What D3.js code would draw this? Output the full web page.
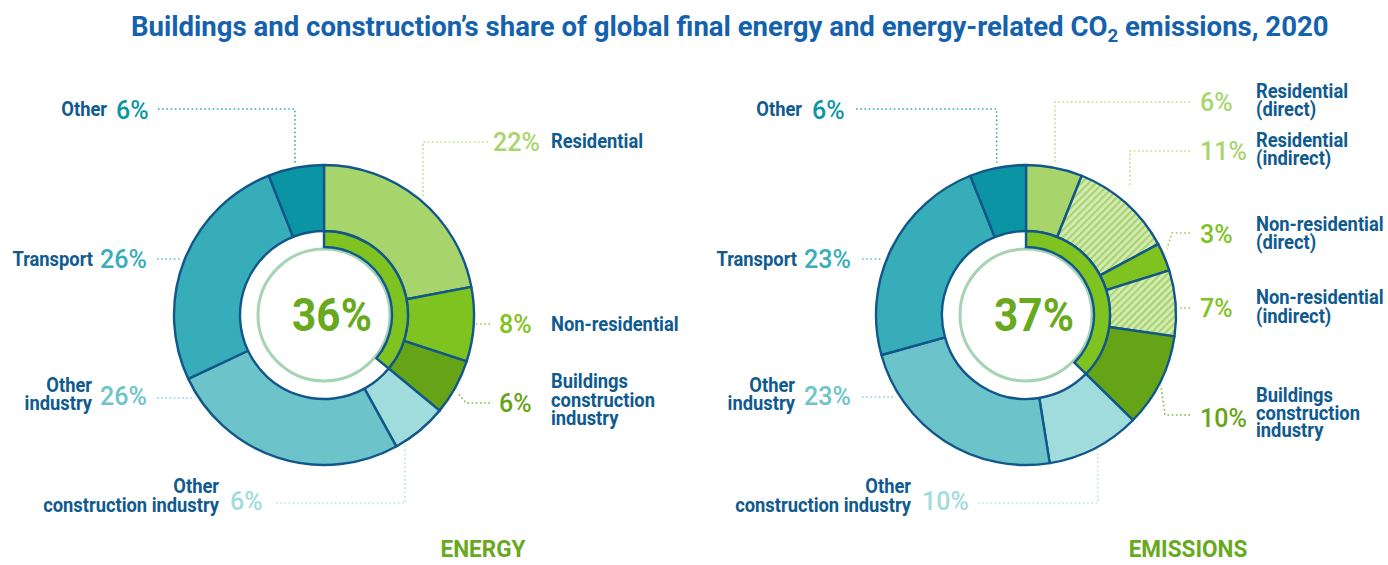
<!DOCTYPE html>
<html><head><meta charset="utf-8">
<script src="https://cdn.jsdelivr.net/npm/d3@7"></script>
<style>
html,body{margin:0;padding:0;background:#fff;}
svg{display:block;font-family:Roboto,"Noto Sans",sans-serif;}
</style></head><body>
<svg id="c" width="1388" height="565"></svg>
<script>
// ---------- DATA ----------
const energyCategories = ["Residential","Non-residential","Buildings construction industry","Other construction industry","Other industry","Transport","Other"];
const energyValues = [22, 8, 6, 6, 26, 26, 6];
const emissionsCategories = ["Residential (direct)","Residential (indirect)","Non-residential (direct)","Non-residential (indirect)","Buildings construction industry","Other construction industry","Other industry","Transport","Other"];
const emissionsValues = [6, 11, 3, 7, 10, 10, 23, 23, 6];
const buildingsShare = [36, 37];
const panelNames = ["ENERGY", "EMISSIONS"];
const titleMain = "Buildings and construction\u2019s share of global final energy and energy-related CO";
const titleSub = "2";
const titleEnd = " emissions, 2020";

// ---------- STYLE ----------
const catColor = {
  "Residential":"#a8d56b","Residential (direct)":"#a8d56b","Residential (indirect)":"#a8d56b",
  "Non-residential":"#7ec320","Non-residential (direct)":"#7ec320","Non-residential (indirect)":"#7ec320",
  "Buildings construction industry":"#66a417",
  "Other construction industry":"#a0dcdc","Other industry":"#6cc4ca","Transport":"#36adb8","Other":"#0b95a4"
};
const hatched = {"Residential (indirect)":"hatchR","Non-residential (indirect)":"hatchN"};
const navy = "#11578a", labelBlue = "#0f5a8e", green = "#68a91d";

const svg = d3.select("#c");
const defs = svg.append("defs");
function hatch(id, base, stripe){
  const p = defs.append("pattern").attr("id", id).attr("patternUnits","userSpaceOnUse")
    .attr("width", 5).attr("height", 5).attr("patternTransform","rotate(45)");
  p.append("rect").attr("width",5).attr("height",5).attr("fill", base);
  p.append("rect").attr("width",2.2).attr("height",5).attr("fill", stripe);
}
hatch("hatchR", "#d6ebb8", "#a8d56b");
hatch("hatchN", "#d6ebb8", "#a8d56b");

// Title
function fitText(sel, x, y, width){
  const w = sel.node().getComputedTextLength();
  sel.attr("transform", `translate(${x},${y}) scale(${width / w},1)`);
}
const title = svg.append("text").attr("x",0).attr("y",0)
  .attr("font-size",28).attr("font-weight",700).attr("fill","#1461ad");
title.append("tspan").text(titleMain);
title.append("tspan").attr("font-size",19).attr("dy",6).text(titleSub);
title.append("tspan").attr("dy",-6).text(titleEnd);
fitText(title, 131, 36, 1198);

function cond(g, x, y, txt, anchor, size, weight, fill, sx){
  return g.append("text").attr("transform",`translate(${x},${y}) scale(${sx},1)`)
    .attr("text-anchor", anchor).attr("font-size", size).attr("font-weight", weight)
    .attr("fill", fill).text(txt);
}

// ---------- LAYOUT ----------
const panels = [
  { cx:324, cy:315, cats:energyCategories, vals:energyValues, share:buildingsShare[0], name:panelNames[0], nameX:483,
    labels:[
      {pctX:493, pctY:151, nameX:551, lines:["Residential"], lineY:[148], leader:{type:"v", x0:488, y:142, at:11.1, gap:4}},
      {pctX:499, pctY:333, nameX:551, lines:["Non-residential"], lineY:[331], leader:{type:"h", x0:490, y:324, gap:1}},
      {pctX:499, pctY:412, nameX:551, lines:["Buildings","construction","industry"], lineY:[388,407,425], leader:{type:"d", x0:490, y:403, elbowX:466, at:33.4, gap:5}},
      {pctX:230, pctY:510, nameX:219, lines:["Other","construction industry"], lineY:[493,512], leader:{type:"v", x0:276, y:503, at:41, gap:1}},
      {pctX:100, pctY:405, nameX:92, lines:["Other","industry"], lineY:[392,410], leader:{type:"h", x0:157, y:398, gap:3}},
      {pctX:100, pctY:268, nameX:93, lines:["Transport"], lineY:[266], leader:{type:"h", x0:157, y:259, gap:5}},
      {pctX:116, pctY:119, nameX:107, lines:["Other"], lineY:[116], leader:{type:"v", x0:158, y:109, at:97, gap:5}}
    ]},
  { cx:1026, cy:315, cats:emissionsCategories, vals:emissionsValues, share:buildingsShare[1], name:panelNames[1], nameX:1188,
    labels:[
      {pctX:1200, pctY:111, nameX:1256, lines:["Residential","(direct)"], lineY:[98,116], leader:{type:"v", x0:1190, y:102, at:2.95, gap:6}},
      {pctX:1200, pctY:160, nameX:1256, lines:["Residential","(indirect)"], lineY:[147,165], leader:{type:"v", x0:1190, y:151, at:10.8, gap:14}},
      {pctX:1200, pctY:243, nameX:1256, lines:["Non-residential","(direct)"], lineY:[231,249], leader:{type:"d", x0:1190, y:233, elbowX:1172, at:17.8, gap:6}},
      {pctX:1200, pctY:317, nameX:1256, lines:["Non-residential","(indirect)"], lineY:[304,323], leader:{type:"h", x0:1190, y:308, gap:3}},
      {pctX:1200, pctY:427, nameX:1256, lines:["Buildings","construction","industry"], lineY:[402,420,437], leader:{type:"d", x0:1190, y:415, elbowX:1165, at:32.3, gap:2}},
      {pctX:922, pctY:510, nameX:911, lines:["Other","construction industry"], lineY:[493,512], leader:{type:"v", x0:978, y:503, at:41.7, gap:1}},
      {pctX:804, pctY:405, nameX:795, lines:["Other","industry"], lineY:[392,410], leader:{type:"h", x0:862, y:397, gap:4}},
      {pctX:804, pctY:268, nameX:797, lines:["Transport"], lineY:[266], leader:{type:"h", x0:862, y:259, gap:6}},
      {pctX:812, pctY:119, nameX:802, lines:["Other"], lineY:[116], leader:{type:"v", x0:856, y:109, at:96, gap:5}}
    ]}
];

const rOuter = 150, rInner = 84, bandIn = 68, bandOut = 84, ringR = 66;

panels.forEach(P => {
  const g = svg.append("g");
  const total = d3.sum(P.vals);
  const pie = d3.pie().sort(null).value(d => d).startAngle(0).endAngle(2*Math.PI);
  const arcs = pie(P.vals);
  const arc = d3.arc().innerRadius(rInner).outerRadius(rOuter);
  const dg = g.append("g").attr("transform", `translate(${P.cx},${P.cy})`);

  // leaders first
  const line = d3.line();
  P.labels.forEach((L, i) => {
    const c = catColor[P.cats[i]];
    const ld = L.leader;
    const R = rOuter + ld.gap;
    let pts;
    if (ld.type === "h") {
      const s = ld.x0 < P.cx ? -1 : 1;
      const ex = P.cx + s * Math.sqrt(R*R - (ld.y - P.cy)*(ld.y - P.cy));
      pts = [[ld.x0, ld.y], [ex, ld.y]];
    } else {
      const a = ld.at / total * 2 * Math.PI;
      const e = [P.cx + R*Math.sin(a), P.cy - R*Math.cos(a)];
      pts = ld.type === "v" ? [[ld.x0, ld.y], [e[0], ld.y], e] : [[ld.x0, ld.y], [ld.elbowX, ld.y], e];
    }
    g.append("path").attr("d", line(pts)).attr("fill","none").attr("stroke", c)
      .attr("stroke-width", 1.6).attr("stroke-dasharray","1.6,2.6").attr("opacity",0.8);
  });

  // ring
  dg.selectAll("path.s").data(arcs).join("path").attr("class","s")
    .attr("d", arc)
    .attr("fill", (d,i) => hatched[P.cats[i]] ? `url(#${hatched[P.cats[i]]})` : catColor[P.cats[i]])
    .attr("stroke", navy).attr("stroke-width", 2.4).attr("stroke-linejoin","round");

  dg.append("circle").attr("r", ringR).attr("fill","none").attr("stroke","#a5d3b4").attr("stroke-width",3);
  dg.append("path").attr("d", d3.arc().innerRadius(bandIn).outerRadius(bandOut)
      .startAngle(0).endAngle(P.share / total * 2 * Math.PI)())
    .attr("fill","#7ec320").attr("stroke", navy).attr("stroke-width", 2.4);

  cond(g, P.cx + 8, P.cy + 16, P.share + "%", "middle", 47, 700, green, 0.9);

  // labels
  P.labels.forEach((L, i) => {
    const c = catColor[P.cats[i]];
    const left = L.nameX < L.pctX;
    g.append("text").attr("x", L.pctX).attr("y", L.pctY)
      .attr("font-size", 25).attr("font-weight", 500).attr("fill", c)
      .text(P.vals[i] + "%");
    L.lines.forEach((t, k) => cond(g, L.nameX, L.lineY[k], t, left ? "end" : "start", 19.5, 700, labelBlue, 0.94));
  });

  cond(g, P.nameX, 557, P.name, "middle", 23, 700, green, 0.98);
});
</script>
</body></html>
